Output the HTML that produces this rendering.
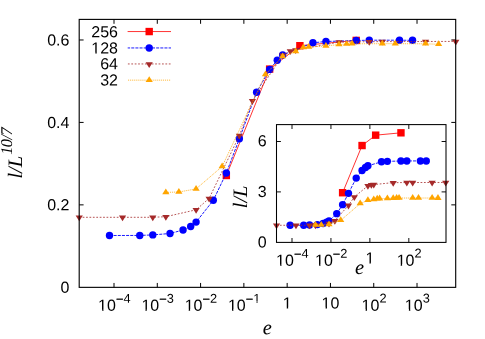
<!DOCTYPE html>
<html><head><meta charset="utf-8"><title>plot</title>
<style>html,body{margin:0;padding:0;background:#fff;}svg{display:block;will-change:transform;}text{font-family:"Liberation Sans",sans-serif;font-size:16px;fill:#000;text-rendering:geometricPrecision;}.it{font-family:"Liberation Serif",serif;font-style:italic;font-size:20.5px;}</style></head><body>
<svg width="485" height="339" viewBox="0 0 485 339">
<rect width="485" height="339" fill="#fff"/>
<path d="M114.00 287.35V282.95M114.00 19.4V23.80M157.29 287.35V282.95M157.29 19.4V23.80M200.58 287.35V282.95M200.58 19.4V23.80M243.87 287.35V282.95M243.87 19.4V23.80M287.16 287.35V282.95M287.16 19.4V23.80M330.45 287.35V282.95M330.45 19.4V23.80M373.74 287.35V282.95M373.74 19.4V23.80M417.03 287.35V282.95M417.03 19.4V23.80M79.2 204.86H83.60M455.7 204.86H451.30M79.2 122.42H83.60M455.7 122.42H451.30M79.2 39.98H83.60M455.7 39.98H451.30" stroke="#000" stroke-width="1" fill="none"/>
<text transform="matrix(1 0.0005 0 1 98.10 310.80)">10<tspan dy="-7.3" font-size="12.8" stroke="#000" stroke-width="0.25">−</tspan><tspan dy="-0.9" font-size="12.8">4</tspan></text>
<text transform="matrix(1 0.0005 0 1 141.39 310.80)">10<tspan dy="-7.3" font-size="12.8" stroke="#000" stroke-width="0.25">−</tspan><tspan dy="-0.9" font-size="12.8">3</tspan></text>
<text transform="matrix(1 0.0005 0 1 184.68 310.80)">10<tspan dy="-7.3" font-size="12.8" stroke="#000" stroke-width="0.25">−</tspan><tspan dy="-0.9" font-size="12.8">2</tspan></text>
<text transform="matrix(1 0.0005 0 1 227.97 310.80)">10<tspan dy="-7.3" font-size="12.8" stroke="#000" stroke-width="0.25">−</tspan><tspan dy="-0.9" font-size="12.8">1</tspan></text>
<text transform="matrix(1 0.0005 0 1 282.71 308.60)">1</text>
<text transform="matrix(1 0.0005 0 1 321.55 308.60)">10</text>
<text transform="matrix(1 0.0005 0 1 361.58 310.80)">10<tspan dy="-8.2" font-size="12.8">2</tspan></text>
<text transform="matrix(1 0.0005 0 1 404.87 310.80)">10<tspan dy="-8.2" font-size="12.8">3</tspan></text>
<text transform="matrix(1 0.0005 0 1 69.40 292.80)" text-anchor="end">0</text>
<text transform="matrix(1 0.0005 0 1 69.40 210.36)" text-anchor="end">0.2</text>
<text transform="matrix(1 0.0005 0 1 69.40 127.92)" text-anchor="end">0.4</text>
<text transform="matrix(1 0.0005 0 1 69.40 45.48)" text-anchor="end">0.6</text>
<rect x="98.10" y="309" width="4.02" height="2" fill="#fff"/>
<rect x="103.54" y="309" width="3.52" height="2" fill="#fff"/>
<rect x="141.39" y="309" width="4.02" height="2" fill="#fff"/>
<rect x="146.83" y="309" width="3.52" height="2" fill="#fff"/>
<rect x="184.68" y="309" width="4.02" height="2" fill="#fff"/>
<rect x="190.12" y="309" width="3.52" height="2" fill="#fff"/>
<rect x="227.97" y="309" width="4.02" height="2" fill="#fff"/>
<rect x="233.41" y="309" width="3.52" height="2" fill="#fff"/>
<rect x="253.25" y="301" width="3.22" height="2" fill="#fff"/>
<rect x="257.60" y="301" width="2.82" height="2" fill="#fff"/>
<rect x="282.71" y="307" width="4.02" height="2" fill="#fff"/>
<rect x="288.15" y="307" width="3.52" height="2" fill="#fff"/>
<rect x="321.55" y="307" width="4.02" height="2" fill="#fff"/>
<rect x="326.99" y="307" width="3.52" height="2" fill="#fff"/>
<rect x="361.58" y="309" width="4.02" height="2" fill="#fff"/>
<rect x="367.02" y="309" width="3.52" height="2" fill="#fff"/>
<rect x="404.87" y="309" width="4.02" height="2" fill="#fff"/>
<rect x="410.31" y="309" width="3.52" height="2" fill="#fff"/>
<text class="it" transform="translate(21.9 178.6) rotate(-90)">l/L<tspan dx="1.0" dy="-9.8" font-size="16.4" letter-spacing="-0.55">10/7</tspan></text>
<text class="it" transform="matrix(1 0.0005 0 1 267.30 334.30)" text-anchor="middle">e</text>
<text transform="matrix(1 0.0005 0 1 118.00 37.20)" text-anchor="end">256</text>
<text transform="matrix(1 0.0005 0 1 118.00 53.40)" text-anchor="end">128</text>
<rect x="91.30" y="52" width="4.02" height="2" fill="#fff"/>
<rect x="96.74" y="52" width="3.52" height="2" fill="#fff"/>
<text transform="matrix(1 0.0005 0 1 118.00 69.35)" text-anchor="end">64</text>
<text transform="matrix(1 0.0005 0 1 118.00 85.50)" text-anchor="end">32</text>
<path d="M127.60 31.55L171.00 31.55" fill="none" stroke="#ff0000" stroke-width="0.8" stroke-dashoffset="0"/>
<rect x="145.50" y="27.85" width="7.40" height="7.40" fill="#ff0000"/>
<path d="M226.34 175.50L269.63 69.10L299.89 45.70L356.21 40.40" fill="none" stroke="#ff0000" stroke-width="0.8"/>
<rect x="222.64" y="171.80" width="7.40" height="7.40" fill="#ff0000"/>
<rect x="265.93" y="65.40" width="7.40" height="7.40" fill="#ff0000"/>
<rect x="296.19" y="42.00" width="7.40" height="7.40" fill="#ff0000"/>
<rect x="352.51" y="36.70" width="7.40" height="7.40" fill="#ff0000"/>
<path d="M127.70 47.95L171.00 47.95" fill="none" stroke="#0000ff" stroke-width="0.9" stroke-dasharray="3.0 1.15" stroke-dashoffset="0.6"/>
<circle cx="149.20" cy="47.95" r="3.70" fill="#0000ff"/>
<path d="M109.50 235.50L139.76 235.45L152.79 234.90L170.02 233.50L183.05 230.00L190.68 226.50L196.08 222.10L213.31 200.30L226.34 173.00L239.37 138.70L256.60 92.30L269.63 69.40L277.26 60.30L282.66 55.00L312.92 42.80L325.95 41.50L356.21 40.50L369.24 40.20L399.50 40.20L412.53 40.30" fill="none" stroke="#0000ff" stroke-width="0.9" stroke-dasharray="3.0 1.15"/>
<circle cx="109.50" cy="235.50" r="3.70" fill="#0000ff"/>
<circle cx="139.76" cy="235.45" r="3.70" fill="#0000ff"/>
<circle cx="152.79" cy="234.90" r="3.70" fill="#0000ff"/>
<circle cx="170.02" cy="233.50" r="3.70" fill="#0000ff"/>
<circle cx="183.05" cy="230.00" r="3.70" fill="#0000ff"/>
<circle cx="190.68" cy="226.50" r="3.70" fill="#0000ff"/>
<circle cx="196.08" cy="222.10" r="3.70" fill="#0000ff"/>
<circle cx="213.31" cy="200.30" r="3.70" fill="#0000ff"/>
<circle cx="226.34" cy="173.00" r="3.70" fill="#0000ff"/>
<circle cx="239.37" cy="138.70" r="3.70" fill="#0000ff"/>
<circle cx="256.60" cy="92.30" r="3.70" fill="#0000ff"/>
<circle cx="269.63" cy="69.40" r="3.70" fill="#0000ff"/>
<circle cx="277.26" cy="60.30" r="3.70" fill="#0000ff"/>
<circle cx="282.66" cy="55.00" r="3.70" fill="#0000ff"/>
<circle cx="312.92" cy="42.80" r="3.70" fill="#0000ff"/>
<circle cx="325.95" cy="41.50" r="3.70" fill="#0000ff"/>
<circle cx="356.21" cy="40.50" r="3.70" fill="#0000ff"/>
<circle cx="369.24" cy="40.20" r="3.70" fill="#0000ff"/>
<circle cx="399.50" cy="40.20" r="3.70" fill="#0000ff"/>
<circle cx="412.53" cy="40.30" r="3.70" fill="#0000ff"/>
<path d="M127.90 63.95L171.00 63.95" fill="none" stroke="#a52a2a" stroke-width="0.8" stroke-dasharray="1.75 1.66" stroke-dashoffset="0"/>
<path d="M149.20 67.97L145.60 62.20L152.80 62.20Z" fill="#a52a2a"/>
<path d="M79.25 217.30L122.54 217.30L152.79 217.30L165.83 216.70L196.08 209.80L209.12 198.40L239.37 135.50L252.41 100.80L282.66 55.20L290.29 50.90L295.70 50.00L338.99 42.10L369.24 41.70L382.28 41.60L425.57 41.50L455.82 41.40" fill="none" stroke="#a52a2a" stroke-width="0.8" stroke-dasharray="1.75 1.66"/>
<path d="M79.25 221.32L75.65 215.55L82.85 215.55Z" fill="#a52a2a"/>
<path d="M122.54 221.32L118.94 215.55L126.14 215.55Z" fill="#a52a2a"/>
<path d="M152.79 221.32L149.19 215.55L156.39 215.55Z" fill="#a52a2a"/>
<path d="M165.83 220.72L162.23 214.95L169.43 214.95Z" fill="#a52a2a"/>
<path d="M196.08 213.82L192.48 208.05L199.68 208.05Z" fill="#a52a2a"/>
<path d="M209.12 202.42L205.52 196.65L212.72 196.65Z" fill="#a52a2a"/>
<path d="M239.37 139.52L235.77 133.75L242.97 133.75Z" fill="#a52a2a"/>
<path d="M252.41 104.82L248.81 99.05L256.01 99.05Z" fill="#a52a2a"/>
<path d="M282.66 59.22L279.06 53.45L286.26 53.45Z" fill="#a52a2a"/>
<path d="M290.29 54.92L286.69 49.15L293.89 49.15Z" fill="#a52a2a"/>
<path d="M295.70 54.02L292.10 48.25L299.30 48.25Z" fill="#a52a2a"/>
<path d="M338.99 46.12L335.39 40.35L342.59 40.35Z" fill="#a52a2a"/>
<path d="M369.24 45.72L365.64 39.95L372.84 39.95Z" fill="#a52a2a"/>
<path d="M382.28 45.62L378.68 39.85L385.88 39.85Z" fill="#a52a2a"/>
<path d="M425.57 45.52L421.97 39.75L429.17 39.75Z" fill="#a52a2a"/>
<path d="M455.82 45.42L452.22 39.65L459.42 39.65Z" fill="#a52a2a"/>
<path d="M128.00 80.15L171.00 80.15" fill="none" stroke="#ffa500" stroke-width="0.75" stroke-dasharray="1.15 0.9" stroke-dashoffset="0"/>
<path d="M149.20 76.13L145.60 81.90L152.80 81.90Z" fill="#ffa500"/>
<path d="M165.83 192.40L178.86 192.00L196.08 188.90L222.15 166.50L265.44 74.50L282.66 56.40L295.70 51.40L303.32 47.60L308.73 47.10L325.95 45.90L338.99 44.60L346.61 44.00L352.02 43.80L382.28 43.70L395.31 43.70L425.57 43.80L438.60 44.30" fill="none" stroke="#ffa500" stroke-width="0.75" stroke-dasharray="1.15 0.9"/>
<path d="M165.83 188.38L162.23 194.15L169.43 194.15Z" fill="#ffa500"/>
<path d="M178.86 187.98L175.26 193.75L182.46 193.75Z" fill="#ffa500"/>
<path d="M196.08 184.88L192.48 190.65L199.68 190.65Z" fill="#ffa500"/>
<path d="M222.15 162.48L218.55 168.25L225.75 168.25Z" fill="#ffa500"/>
<path d="M265.44 70.48L261.84 76.25L269.04 76.25Z" fill="#ffa500"/>
<path d="M282.66 52.38L279.06 58.15L286.26 58.15Z" fill="#ffa500"/>
<path d="M295.70 47.38L292.10 53.15L299.30 53.15Z" fill="#ffa500"/>
<path d="M303.32 43.58L299.72 49.35L306.92 49.35Z" fill="#ffa500"/>
<path d="M308.73 43.08L305.13 48.85L312.33 48.85Z" fill="#ffa500"/>
<path d="M325.95 41.88L322.35 47.65L329.55 47.65Z" fill="#ffa500"/>
<path d="M338.99 40.58L335.39 46.35L342.59 46.35Z" fill="#ffa500"/>
<path d="M346.61 39.98L343.01 45.75L350.21 45.75Z" fill="#ffa500"/>
<path d="M352.02 39.78L348.42 45.55L355.62 45.55Z" fill="#ffa500"/>
<path d="M382.28 39.68L378.68 45.45L385.88 45.45Z" fill="#ffa500"/>
<path d="M395.31 39.68L391.71 45.45L398.91 45.45Z" fill="#ffa500"/>
<path d="M425.57 39.78L421.97 45.55L429.17 45.55Z" fill="#ffa500"/>
<path d="M438.60 40.28L435.00 46.05L442.20 46.05Z" fill="#ffa500"/>
<rect x="79.2" y="19.4" width="376.50" height="267.95" fill="none" stroke="#000" stroke-width="1.12"/>
<path d="M292.00 242.4V238.00M292.00 124.6V129.00M330.94 242.4V238.00M330.94 124.6V129.00M369.88 242.4V238.00M369.88 124.6V129.00M408.82 242.4V238.00M408.82 124.6V129.00M276.5 191.90H280.90M446.0 191.90H441.60M276.5 141.50H280.90M446.0 141.50H441.60" stroke="#000" stroke-width="0.95" fill="none"/>
<text transform="matrix(1 0.0005 0 1 276.10 265.80)">10<tspan dy="-7.3" font-size="12.8" stroke="#000" stroke-width="0.25">−</tspan><tspan dy="-0.9" font-size="12.8">4</tspan></text>
<text transform="matrix(1 0.0005 0 1 315.04 265.80)">10<tspan dy="-7.3" font-size="12.8" stroke="#000" stroke-width="0.25">−</tspan><tspan dy="-0.9" font-size="12.8">2</tspan></text>
<text transform="matrix(1 0.0005 0 1 365.43 263.60)">1</text>
<text transform="matrix(1 0.0005 0 1 396.66 265.80)">10<tspan dy="-8.2" font-size="12.8">2</tspan></text>
<text transform="matrix(1 0.0005 0 1 266.60 247.50)" text-anchor="end">0</text>
<text transform="matrix(1 0.0005 0 1 266.60 197.10)" text-anchor="end">3</text>
<text transform="matrix(1 0.0005 0 1 266.60 146.20)" text-anchor="end">6</text>
<rect x="276.10" y="264" width="4.02" height="2" fill="#fff"/>
<rect x="281.54" y="264" width="3.52" height="2" fill="#fff"/>
<rect x="315.04" y="264" width="4.02" height="2" fill="#fff"/>
<rect x="320.48" y="264" width="3.52" height="2" fill="#fff"/>
<rect x="365.43" y="262" width="4.02" height="2" fill="#fff"/>
<rect x="370.87" y="262" width="3.52" height="2" fill="#fff"/>
<rect x="396.66" y="264" width="4.02" height="2" fill="#fff"/>
<rect x="402.10" y="264" width="3.52" height="2" fill="#fff"/>
<text class="it" transform="translate(246.5 208.3) rotate(-90)">l/L</text>
<text class="it" transform="matrix(1 0.0005 0 1 359.60 274.00)" text-anchor="middle">e</text>
<path d="M342.61 192.72L362.06 145.54L375.66 135.17L400.96 132.82" fill="none" stroke="#ff0000" stroke-width="0.8"/>
<rect x="338.91" y="189.02" width="7.40" height="7.40" fill="#ff0000"/>
<rect x="358.36" y="141.84" width="7.40" height="7.40" fill="#ff0000"/>
<rect x="371.96" y="131.47" width="7.40" height="7.40" fill="#ff0000"/>
<rect x="397.26" y="129.12" width="7.40" height="7.40" fill="#ff0000"/>
<path d="M290.12 225.24L303.71 225.22L309.57 225.04L317.31 224.58L323.16 223.43L326.59 222.28L329.02 220.83L336.76 213.65L342.61 204.66L348.47 193.36L356.21 178.08L362.06 170.54L365.49 167.55L367.92 165.80L381.51 161.78L387.37 161.35L400.96 161.02L406.82 160.93L420.41 160.93L426.27 160.96" fill="none" stroke="#0000ff" stroke-width="0.9" stroke-dasharray="3.0 1.15"/>
<circle cx="290.12" cy="225.24" r="3.70" fill="#0000ff"/>
<circle cx="303.71" cy="225.22" r="3.70" fill="#0000ff"/>
<circle cx="309.57" cy="225.04" r="3.70" fill="#0000ff"/>
<circle cx="317.31" cy="224.58" r="3.70" fill="#0000ff"/>
<circle cx="323.16" cy="223.43" r="3.70" fill="#0000ff"/>
<circle cx="326.59" cy="222.28" r="3.70" fill="#0000ff"/>
<circle cx="329.02" cy="220.83" r="3.70" fill="#0000ff"/>
<circle cx="336.76" cy="213.65" r="3.70" fill="#0000ff"/>
<circle cx="342.61" cy="204.66" r="3.70" fill="#0000ff"/>
<circle cx="348.47" cy="193.36" r="3.70" fill="#0000ff"/>
<circle cx="356.21" cy="178.08" r="3.70" fill="#0000ff"/>
<circle cx="362.06" cy="170.54" r="3.70" fill="#0000ff"/>
<circle cx="365.49" cy="167.55" r="3.70" fill="#0000ff"/>
<circle cx="367.92" cy="165.80" r="3.70" fill="#0000ff"/>
<circle cx="381.51" cy="161.78" r="3.70" fill="#0000ff"/>
<circle cx="387.37" cy="161.35" r="3.70" fill="#0000ff"/>
<circle cx="400.96" cy="161.02" r="3.70" fill="#0000ff"/>
<circle cx="406.82" cy="160.93" r="3.70" fill="#0000ff"/>
<circle cx="420.41" cy="160.93" r="3.70" fill="#0000ff"/>
<circle cx="426.27" cy="160.96" r="3.70" fill="#0000ff"/>
<path d="M276.52 225.27L295.97 225.27L309.57 225.27L315.42 225.12L329.02 223.44L334.87 220.67L348.47 205.36L354.32 196.92L367.92 185.83L371.34 184.78L373.77 184.56L393.22 182.64L406.82 182.54L412.67 182.52L432.12 182.49L445.72 182.47" fill="none" stroke="#a52a2a" stroke-width="0.8" stroke-dasharray="1.75 1.66"/>
<path d="M276.52 229.29L272.92 223.52L280.12 223.52Z" fill="#a52a2a"/>
<path d="M295.97 229.29L292.37 223.52L299.57 223.52Z" fill="#a52a2a"/>
<path d="M309.57 229.29L305.97 223.52L313.17 223.52Z" fill="#a52a2a"/>
<path d="M315.42 229.14L311.82 223.37L319.02 223.37Z" fill="#a52a2a"/>
<path d="M329.02 227.46L325.42 221.69L332.62 221.69Z" fill="#a52a2a"/>
<path d="M334.87 224.69L331.27 218.92L338.47 218.92Z" fill="#a52a2a"/>
<path d="M348.47 209.38L344.87 203.61L352.07 203.61Z" fill="#a52a2a"/>
<path d="M354.32 200.94L350.72 195.17L357.92 195.17Z" fill="#a52a2a"/>
<path d="M367.92 189.85L364.32 184.08L371.52 184.08Z" fill="#a52a2a"/>
<path d="M371.34 188.80L367.74 183.03L374.94 183.03Z" fill="#a52a2a"/>
<path d="M373.77 188.58L370.17 182.81L377.37 182.81Z" fill="#a52a2a"/>
<path d="M393.22 186.66L389.62 180.89L396.82 180.89Z" fill="#a52a2a"/>
<path d="M406.82 186.56L403.22 180.79L410.42 180.79Z" fill="#a52a2a"/>
<path d="M412.67 186.54L409.07 180.77L416.27 180.77Z" fill="#a52a2a"/>
<path d="M432.12 186.51L428.52 180.74L435.72 180.74Z" fill="#a52a2a"/>
<path d="M445.72 186.49L442.12 180.72L449.32 180.72Z" fill="#a52a2a"/>
<path d="M315.42 225.05L321.28 224.98L329.02 224.41L340.73 220.34L360.18 203.62L367.92 200.33L373.77 199.42L377.20 198.73L379.63 198.64L387.37 198.42L393.22 198.18L396.65 198.07L399.08 198.04L412.67 198.02L418.53 198.02L432.12 198.04L437.98 198.13" fill="none" stroke="#ffa500" stroke-width="0.75" stroke-dasharray="1.15 0.9"/>
<path d="M315.42 221.03L311.82 226.80L319.02 226.80Z" fill="#ffa500"/>
<path d="M321.28 220.96L317.68 226.73L324.88 226.73Z" fill="#ffa500"/>
<path d="M329.02 220.39L325.42 226.16L332.62 226.16Z" fill="#ffa500"/>
<path d="M340.73 216.32L337.13 222.09L344.33 222.09Z" fill="#ffa500"/>
<path d="M360.18 199.60L356.58 205.37L363.78 205.37Z" fill="#ffa500"/>
<path d="M367.92 196.31L364.32 202.08L371.52 202.08Z" fill="#ffa500"/>
<path d="M373.77 195.40L370.17 201.17L377.37 201.17Z" fill="#ffa500"/>
<path d="M377.20 194.71L373.60 200.48L380.80 200.48Z" fill="#ffa500"/>
<path d="M379.63 194.62L376.03 200.39L383.23 200.39Z" fill="#ffa500"/>
<path d="M387.37 194.40L383.77 200.17L390.97 200.17Z" fill="#ffa500"/>
<path d="M393.22 194.16L389.62 199.93L396.82 199.93Z" fill="#ffa500"/>
<path d="M396.65 194.05L393.05 199.82L400.25 199.82Z" fill="#ffa500"/>
<path d="M399.08 194.02L395.48 199.79L402.68 199.79Z" fill="#ffa500"/>
<path d="M412.67 194.00L409.07 199.77L416.27 199.77Z" fill="#ffa500"/>
<path d="M418.53 194.00L414.93 199.77L422.13 199.77Z" fill="#ffa500"/>
<path d="M432.12 194.02L428.52 199.79L435.72 199.79Z" fill="#ffa500"/>
<path d="M437.98 194.11L434.38 199.88L441.58 199.88Z" fill="#ffa500"/>
<rect x="276.5" y="124.6" width="169.50" height="117.80" fill="none" stroke="#000" stroke-width="1.05"/>
</svg></body></html>
